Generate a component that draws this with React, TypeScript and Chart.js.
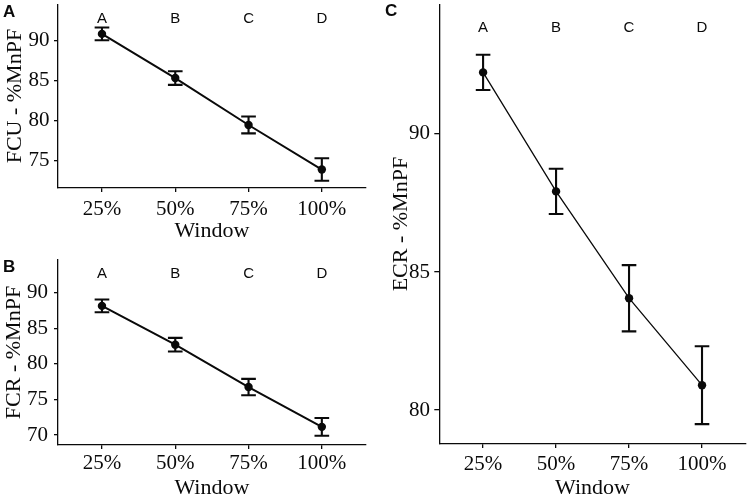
import React, { useEffect, useRef } from 'react';
import { Chart, registerables } from 'chart.js';

Chart.register(...registerables);

// Categories and group letters shared by all three panels
const windowLabels = ['25%', '50%', '75%', '100%'];
const groupLetters = ['A', 'B', 'C', 'D'];

// Panel A: FCU
const fcuMean = [90.8, 85.3, 79.45, 73.9];
const fcuErr = [0.8, 0.85, 1.05, 1.4];
const fcuTicks = [75, 80, 85, 90];

// Panel B: FCR
const fcrMean = [88.15, 82.7, 76.75, 71.15];
const fcrErr = [0.9, 0.95, 1.15, 1.25];
const fcrTicks = [70, 75, 80, 85, 90];

// Panel C: ECR
const ecrMean = [92.23, 87.92, 84.05, 80.9];
const ecrErr = [0.64, 0.82, 1.2, 1.41];
const ecrTicks = [80, 85, 90];

const SERIF = '"Liberation Serif", "Times New Roman", serif';
const SANS = '"Liberation Sans", Arial, sans-serif';
const INK = '#0a0a0a';

type PanelSpec = {
  tag: string;
  tagX: number;
  tagY: number;
  yTitle: string;
  mean: number[];
  err: number[];
  ticks: number[];
  yMin: number;
  yMax: number;
  letterY: number;
  lineWidth: number;
  width: number;
  height: number;
  padding: { left: number; right: number; top: number; bottom: number };
  yAxisWidth: number;
  xAxisHeight: number;
  yTitlePad: number;
  xTitlePad: number;
  yTickPad: number;
  yTickLen: number;
  xTickPad: number;
};

function buildConfig(p: PanelSpec): any {
  const errorBars = {
    id: 'errorBars',
    afterDatasetsDraw(chart: any) {
      const { ctx, scales } = chart;
      const xs = scales.x;
      const ys = scales.y;
      ctx.save();
      ctx.strokeStyle = INK;
      ctx.lineWidth = 2.1;
      p.mean.forEach((m, i) => {
        const cx = xs.getPixelForValue(i);
        const x0 = xs.getPixelForValue(i - 0.1);
        const x1 = xs.getPixelForValue(i + 0.1);
        const yTop = ys.getPixelForValue(m + p.err[i]);
        const yBot = ys.getPixelForValue(m - p.err[i]);
        ctx.beginPath();
        ctx.moveTo(cx, yTop);
        ctx.lineTo(cx, yBot);
        ctx.moveTo(x0, yTop);
        ctx.lineTo(x1, yTop);
        ctx.moveTo(x0, yBot);
        ctx.lineTo(x1, yBot);
        ctx.stroke();
      });
      // group letters above each window
      ctx.fillStyle = INK;
      ctx.font = `15px ${SANS}`;
      ctx.textAlign = 'center';
      ctx.textBaseline = 'middle';
      groupLetters.forEach((l, i) => {
        ctx.fillText(l, xs.getPixelForValue(i), ys.getPixelForValue(p.letterY));
      });
      // panel tag
      ctx.font = `bold 17px ${SANS}`;
      ctx.textAlign = 'left';
      ctx.textBaseline = 'alphabetic';
      ctx.fillText(p.tag, p.tagX, p.tagY);
      ctx.restore();
    },
  };

  const tickFont = { family: SERIF, size: 21 };
  const titleFont = { family: SERIF, size: 22 };

  return {
    type: 'line',
    data: {
      datasets: [
        {
          data: p.mean.map((y, i) => ({ x: i, y })),
          borderColor: INK,
          borderWidth: p.lineWidth,
          pointRadius: 4.2,
          pointBackgroundColor: INK,
          pointBorderWidth: 0,
          tension: 0,
          fill: false,
        },
      ],
    },
    options: {
      animation: false,
      responsive: false,
      devicePixelRatio: 1,
      layout: { padding: p.padding },
      plugins: { legend: { display: false }, tooltip: { enabled: false } },
      scales: {
        x: {
          type: 'linear',
          min: -0.6,
          max: 3.6,
          afterBuildTicks: (s: any) => {
            s.ticks = windowLabels.map((_, i) => ({ value: i }));
          },
          afterFit: (s: any) => {
            s.height = p.xAxisHeight;
            s.paddingLeft = 0;
            s.paddingRight = 0;
          },
          ticks: {
            autoSkip: false,
            maxRotation: 0,
            color: INK,
            font: tickFont,
            padding: p.xTickPad,
            callback: (_v: any, i: number) => windowLabels[i],
          },
          grid: {
            display: true,
            drawOnChartArea: false,
            drawTicks: true,
            tickLength: 4,
            color: INK,
            lineWidth: 1.3,
          },
          border: { display: true, color: INK, width: 1.3 },
          title: {
            display: true,
            text: 'Window',
            color: INK,
            font: titleFont,
            padding: { top: 0, bottom: p.xTitlePad },
          },
        },
        y: {
          type: 'linear',
          min: p.yMin,
          max: p.yMax,
          afterBuildTicks: (s: any) => {
            s.ticks = p.ticks.map((v) => ({ value: v }));
          },
          afterFit: (s: any) => {
            s.width = p.yAxisWidth;
            s.paddingTop = 0;
            s.paddingBottom = 0;
          },
          ticks: {
            color: INK,
            font: tickFont,
            padding: p.yTickPad,
          },
          grid: {
            display: true,
            drawOnChartArea: false,
            drawTicks: true,
            tickLength: p.yTickLen,
            color: INK,
            lineWidth: 1.3,
          },
          border: { display: true, color: INK, width: 1.3 },
          title: {
            display: true,
            text: p.yTitle,
            color: INK,
            font: titleFont,
            padding: { top: p.yTitlePad, bottom: 0 },
          },
        },
      },
    },
    plugins: [errorBars],
  };
}

const panels: { spec: PanelSpec; left: number; top: number }[] = [
  {
    left: 0,
    top: 0,
    spec: {
      tag: 'A', tagX: 3, tagY: 16.5,
      yTitle: 'FCU - %MnPF',
      mean: fcuMean, err: fcuErr, ticks: fcuTicks,
      yMin: 71.6, yMax: 94.5, letterY: 92.7, lineWidth: 2,
      width: 370, height: 248,
      padding: { left: 0, right: 3.3, top: 3, bottom: 0 },
      yAxisWidth: 58, xAxisHeight: 60,
      yTitlePad: 1.8, xTitlePad: 4, yTickPad: 4.5, yTickLen: 4, xTickPad: 5,
    },
  },
  {
    left: 0,
    top: 240,
    spec: {
      tag: 'B', tagX: 3, tagY: 32,
      yTitle: 'FCR - %MnPF',
      mean: fcrMean, err: fcrErr, ticks: fcrTicks,
      yMin: 68.6, yMax: 94.6, letterY: 92.7, lineWidth: 2,
      width: 370, height: 266,
      padding: { left: 0, right: 3.3, top: 20, bottom: 0 },
      yAxisWidth: 58, xAxisHeight: 61,
      yTitlePad: 1.4, xTitlePad: 4.3, yTickPad: 6, yTickLen: 4, xTickPad: 2,
    },
  },
  {
    left: 370,
    top: 0,
    spec: {
      tag: 'C', tagX: 15, tagY: 16,
      yTitle: 'ECR - %MnPF',
      mean: ecrMean, err: ecrErr, ticks: ecrTicks,
      yMin: 78.77, yMax: 94.7, letterY: 93.85, lineWidth: 1.3,
      width: 380, height: 506,
      padding: { left: 0, right: 2, top: 3, bottom: 0 },
      yAxisWidth: 69.3, xAxisHeight: 62,
      yTitlePad: 17.8, xTitlePad: 4.3, yTickPad: 4.3, yTickLen: 5, xTickPad: 3.8,
    },
  },
];

function Panel({ spec, left, top }: { spec: PanelSpec; left: number; top: number }) {
  const ref = useRef<HTMLCanvasElement | null>(null);
  useEffect(() => {
    if (!ref.current) return;
    const chart = new Chart(ref.current, buildConfig(spec));
    return () => chart.destroy();
  }, [spec]);
  return (
    <canvas
      ref={ref}
      width={spec.width}
      height={spec.height}
      style={{ position: 'absolute', left, top, width: spec.width, height: spec.height }}
    />
  );
}

export default function App() {
  return (
    <div
      style={{
        position: 'fixed',
        left: 0,
        top: 0,
        width: 750,
        height: 496,
        overflow: 'hidden',
        background: '#ffffff',
      }}
    >
      {panels.map((p) => (
        <Panel key={p.spec.tag} spec={p.spec} left={p.left} top={p.top} />
      ))}
    </div>
  );
}
